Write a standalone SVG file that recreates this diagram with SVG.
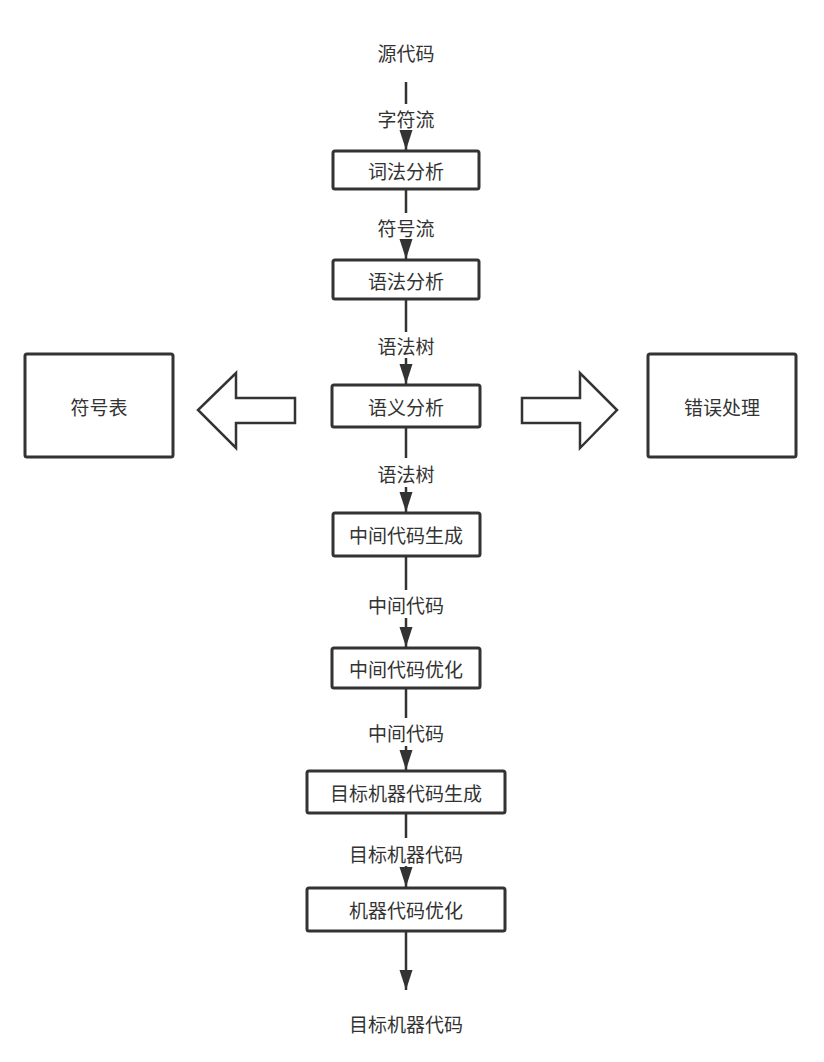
<svg xmlns="http://www.w3.org/2000/svg" width="824" height="1062" viewBox="0 0 824 1062">
<style>
.box{fill:#fff;stroke:#333;stroke-width:3}
.t{font-family:"Noto Sans CJK SC","Noto Sans",sans-serif;font-size:19px;fill:#333;text-anchor:middle;dominant-baseline:central}
.ln{stroke:#333;stroke-width:2.5;fill:none}
.blk{fill:#fff;stroke:#333;stroke-width:2.5;stroke-linejoin:miter}
</style>
<defs>
<marker id="ah2" markerWidth="20" markerHeight="14" refX="20" refY="7" orient="auto" markerUnits="userSpaceOnUse" viewBox="0 0 20 14">
<path d="M0,0.5 L20,7 L0,13.5 Z" fill="#333"/>
</marker>
</defs>
<g id="connectors">
<line class="ln" x1="406" y1="82" x2="406" y2="104"/>
<line class="ln" x1="406" y1="130" x2="406" y2="150" marker-end="url(#ah2)"/>
<line class="ln" x1="406" y1="189" x2="406" y2="213"/>
<line class="ln" x1="406" y1="239" x2="406" y2="259" marker-end="url(#ah2)"/>
<line class="ln" x1="406" y1="299" x2="406" y2="332"/>
<line class="ln" x1="406" y1="358" x2="406" y2="384" marker-end="url(#ah2)"/>
<line class="ln" x1="406" y1="427" x2="406" y2="458"/>
<line class="ln" x1="406" y1="487" x2="406" y2="512" marker-end="url(#ah2)"/>
<line class="ln" x1="406" y1="556" x2="406" y2="590"/>
<line class="ln" x1="406" y1="618" x2="406" y2="647" marker-end="url(#ah2)"/>
<line class="ln" x1="406" y1="688" x2="406" y2="718"/>
<line class="ln" x1="406" y1="746" x2="406" y2="770" marker-end="url(#ah2)"/>
<line class="ln" x1="406" y1="813" x2="406" y2="838"/>
<line class="ln" x1="406" y1="866" x2="406" y2="887" marker-end="url(#ah2)"/>
<line class="ln" x1="406" y1="931" x2="406" y2="990" marker-end="url(#ah2)"/>
<text class="t" x="406" y="118">字符流</text>
<text class="t" x="406" y="227">符号流</text>
<text class="t" x="406" y="345">语法树</text>
<text class="t" x="406" y="473">语法树</text>
<text class="t" x="406" y="604">中间代码</text>
<text class="t" x="406" y="732">中间代码</text>
<text class="t" x="406" y="853">目标机器代码</text>
</g>
<g id="src"><text class="t" x="406" y="52">源代码</text></g>
<g id="lex"><rect class="box" x="333" y="151" width="146" height="38" rx="2"/><text class="t" x="406" y="170">词法分析</text></g>
<g id="syn"><rect class="box" x="333" y="260" width="146" height="39" rx="2"/><text class="t" x="406" y="280">语法分析</text></g>
<g id="sem"><rect class="box" x="332" y="385" width="148" height="42" rx="2"/><text class="t" x="406" y="406">语义分析</text></g>
<g id="irgen"><rect class="box" x="333" y="513" width="147" height="43" rx="2"/><text class="t" x="406" y="534">中间代码生成</text></g>
<g id="iropt"><rect class="box" x="332" y="648" width="148" height="40" rx="2"/><text class="t" x="406" y="668">中间代码优化</text></g>
<g id="tgen"><rect class="box" x="307" y="771" width="198" height="42" rx="2"/><text class="t" x="406" y="792">目标机器代码生成</text></g>
<g id="topt"><rect class="box" x="307" y="888" width="198" height="43" rx="2"/><text class="t" x="406" y="909">机器代码优化</text></g>
<g id="out"><text class="t" x="406" y="1023">目标机器代码</text></g>
<g id="symtab"><rect class="box" x="25" y="354" width="148" height="103" rx="2"/><text class="t" x="99" y="406">符号表</text></g>
<g id="err"><rect class="box" x="648" y="354" width="148" height="103" rx="2"/><text class="t" x="722" y="406">错误处理</text></g>
<g id="arrowL"><path class="blk" d="M295,398 L236,398 L236,373 L198,410 L236,448 L236,423 L295,423 Z"/></g>
<g id="arrowR"><path class="blk" d="M522,398 L580,398 L580,373 L617,410 L580,448 L580,423 L522,423 Z"/></g>
</svg>
